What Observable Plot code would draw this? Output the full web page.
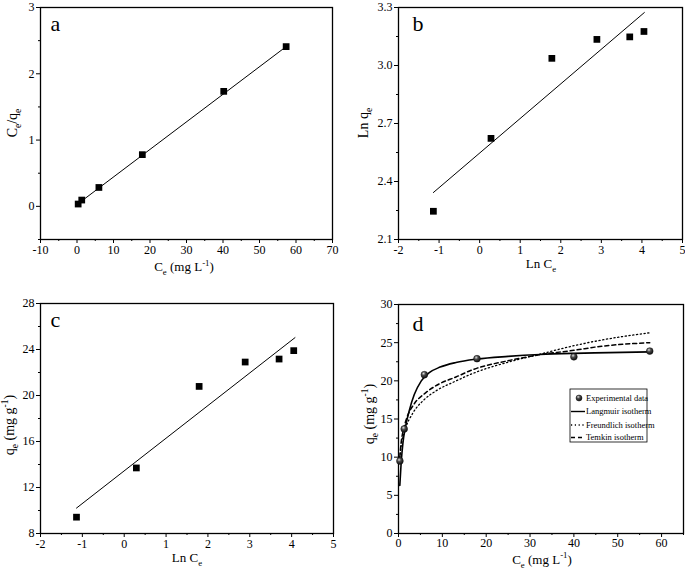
<!DOCTYPE html>
<html>
<head>
<meta charset="utf-8">
<script src="https://cdn.jsdelivr.net/npm/d3@7"></script>
<script src="https://cdn.jsdelivr.net/npm/@observablehq/plot@0.6"></script>
<style>
  html, body { margin: 0; padding: 0; background: white; }
  #wrap { position: relative; width: 685px; height: 571px; background: white; overflow: hidden; }
  #wrap > svg.panel { position: absolute; overflow: visible; }
</style>
</head>
<body>
<svg width="0" height="0" style="position:absolute">
  <defs>
    <radialGradient id="ball" cx="0.38" cy="0.32" r="0.7">
      <stop offset="0" stop-color="#dcdcdc"/>
      <stop offset="0.4" stop-color="#4a4a4a"/>
      <stop offset="1" stop-color="#0a0a0a"/>
    </radialGradient>
  </defs>
</svg>
<div id="wrap"></div>
<script>
// ---------- Panel a: Langmuir linear plot ----------
const aCe = [0.32, 1.3, 6.0, 17.9, 40.2, 57.3];
const aCeQe = [0.035, 0.095, 0.285, 0.78, 1.735, 2.41];
const aFitCe = [0.3, 57.3];
const aFitCeQe = [0.04, 2.41];
const aXMajor = [-10, 0, 10, 20, 30, 40, 50, 60, 70];
const aXMinor = [-5, 5, 15, 25, 35, 45, 55, 65];
const aYMajor = [0, 1, 2, 3];
const aYMinor = [-0.5, 0.5, 1.5, 2.5];

// ---------- Panel b: Freundlich linear plot ----------
const bLnCe = [-1.14, 0.28, 1.78, 2.89, 3.70, 4.05];
const bLnQe = [2.246, 2.623, 3.037, 3.135, 3.148, 3.176];
const bFitX = [-1.14, 4.06];
const bFitY = [2.343, 3.274];
const bXMajor = [-2, -1, 0, 1, 2, 3, 4, 5];
const bXMinor = [-1.5, -0.5, 0.5, 1.5, 2.5, 3.5, 4.5];
const bYMajor = [2.1, 2.4, 2.7, 3.0, 3.3];
const bYMinor = [2.25, 2.55, 2.85, 3.15];

// ---------- Panel c: Temkin linear plot ----------
const cLnCe = [-1.14, 0.29, 1.79, 2.89, 3.70, 4.05];
const cQe = [9.42, 13.70, 20.79, 22.91, 23.17, 23.90];
const cFitX = [-1.14, 4.08];
const cFitY = [10.21, 25.03];
const cXMajor = [-2, -1, 0, 1, 2, 3, 4, 5];
const cXMinor = [-1.5, -0.5, 0.5, 1.5, 2.5, 3.5, 4.5];
const cYMajor = [8, 12, 16, 20, 24, 28];
const cYMinor = [10, 14, 18, 22, 26];

// ---------- Panel d: nonlinear isotherms ----------
const dCe = [0.32, 1.3, 5.9, 17.9, 40.0, 57.3];
const dQe = [9.5, 13.7, 20.8, 22.9, 23.15, 23.9];
const langCe = [0.3, 0.6, 1.0, 1.6, 2.5, 3.6, 5.2, 7.1, 9.5, 13.1, 17.9, 25, 32.3, 40, 48, 57.3];
const langQe = [6.3, 9.2, 11.8, 14.0, 16.2, 18.2, 20.0, 21.1, 21.8, 22.4, 22.85, 23.2, 23.45, 23.6, 23.7, 23.8];
const freuCe = [0.3, 0.6, 1.4, 3.3, 5.6, 8.6, 12.8, 17.1, 24.7, 32.3, 40, 45.9, 57.3];
const freuQe = [9.9, 11.5, 13.4, 15.8, 17.4, 18.7, 19.9, 21.0, 22.4, 23.5, 24.6, 25.3, 26.3];
const temkCe = [0.3, 0.6, 1.0, 1.75, 3.6, 5.9, 9.3, 13.1, 17.1, 24.7, 32, 40, 45.9, 57.3];
const temkQe = [10.0, 11.9, 13.3, 14.9, 17.0, 18.3, 19.6, 20.5, 21.5, 22.6, 23.4, 24.0, 24.5, 25.0];
const dXMajor = [0, 10, 20, 30, 40, 50, 60];
const dXMinor = [5, 15, 25, 35, 45, 55, 65];
const dYMajor = [0, 5, 10, 15, 20, 25, 30];
const dYMinor = [2.5, 7.5, 12.5, 17.5, 22.5, 27.5];
const legendLabels = ["Experimental data", "Langmuir isotherm", "Freundlich isotherm", "Temkin isotherm"];

const serif = "Liberation Serif";
const zip = (xs, ys) => xs.map((x, i) => ({x, y: ys[i]}));
const plain = d => String(d);

function axes(xMajor, xMinor, yMajor, yMinor, yFmt, xPad = 2) {
  return [
    Plot.axisX({ticks: xMajor, tickSize: 4, tickPadding: xPad, tickFormat: plain, label: null, fontSize: 12}),
    Plot.axisX({ticks: xMinor, tickSize: 2, tickFormat: () => "", label: null}),
    Plot.axisY({ticks: yMajor, tickSize: 4, tickPadding: 2, tickFormat: yFmt, label: null, fontSize: 12}),
    Plot.axisY({ticks: yMinor, tickSize: 2, tickFormat: () => "", label: null}),
    Plot.frame({stroke: "black", strokeWidth: 1.3})
  ];
}

function richText(svg, {x, y, rotate = 0, parts, size = 13}) {
  const t = d3.select(svg).append("text")
    .attr("font-size", size)
    .attr("fill", "black")
    .attr("text-anchor", "middle")
    .attr("transform", `translate(${x},${y}) rotate(${rotate})`);
  let cur = 0;
  for (const [s, kind] of parts) {
    const target = kind === "sub" ? size * 0.32 : kind === "sup" ? -size * 0.4 : 0;
    const sp = t.append("tspan").attr("dy", target - cur).text(s);
    if (kind) sp.attr("font-size", size * 0.68);
    cur = target;
  }
}

function mount(svg, left, top) {
  svg.classList.add("panel");
  svg.style.left = left + "px";
  svg.style.top = top + "px";
  document.getElementById("wrap").appendChild(svg);
  return svg;
}

const letterMark = (s, dx, dy) => Plot.text([s], {frameAnchor: "top-left", textAnchor: "start", lineAnchor: "top", dx, dy, fontSize: 22, fill: "black"});
const baseStyle = {fontSize: "12px", color: "black", background: "white"};

// Panel a
const svgA = Plot.plot({
  width: 340, height: 285,
  marginLeft: 40, marginRight: 8, marginTop: 7, marginBottom: 46,
  style: baseStyle,
  x: {domain: [-10, 70], label: null},
  y: {domain: [-0.5, 3], label: null},
  marks: [
    ...axes(aXMajor, aXMinor, aYMajor, aYMinor, plain),
    Plot.line(zip(aFitCe, aFitCeQe), {x: "x", y: "y", stroke: "black", strokeWidth: 1}),
    Plot.dot(zip(aCe, aCeQe), {x: "x", y: "y", symbol: "square", r: 3.8, fill: "black"}),
    letterMark("a", 10, 8)
  ]
});
mount(svgA, 0, 0);
richText(svgA, {x: 184, y: 271, parts: [["C"], ["e", "sub"], [" (mg L"], ["-1", "sup"], [")"]]});
richText(svgA, {x: 17, y: 123, rotate: -90, size: 14, parts: [["C"], ["e", "sub"], ["/q"], ["e", "sub"]]});

// Panel b
const svgB = Plot.plot({
  width: 345, height: 285,
  marginLeft: 58, marginRight: 3, marginTop: 7, marginBottom: 46,
  style: baseStyle,
  x: {domain: [-2, 5], label: null},
  y: {domain: [2.1, 3.3], label: null},
  marks: [
    ...axes(bXMajor, bXMinor, bYMajor, bYMinor, d => d.toFixed(1)),
    Plot.line(zip(bFitX, bFitY), {x: "x", y: "y", stroke: "black", strokeWidth: 1}),
    Plot.dot(zip(bLnCe, bLnQe), {x: "x", y: "y", symbol: "square", r: 3.8, fill: "black"}),
    letterMark("b", 14, 8)
  ]
});
mount(svgB, 340, 0);
richText(svgB, {x: 201, y: 268, parts: [["Ln C"], ["e", "sub"]]});
richText(svgB, {x: 28, y: 123, rotate: -90, size: 14, parts: [["Ln q"], ["e", "sub"]]});

// Panel c
const svgC = Plot.plot({
  width: 340, height: 286,
  marginLeft: 40, marginRight: 7, marginTop: 18, marginBottom: 38,
  style: baseStyle,
  x: {domain: [-2, 5], label: null},
  y: {domain: [8, 28], label: null},
  marks: [
    ...axes(cXMajor, cXMinor, cYMajor, cYMinor, plain),
    Plot.line(zip(cFitX, cFitY), {x: "x", y: "y", stroke: "black", strokeWidth: 1}),
    Plot.dot(zip(cLnCe, cQe), {x: "x", y: "y", symbol: "square", r: 3.8, fill: "black"}),
    letterMark("c", 10, 8)
  ]
});
mount(svgC, 0, 285);
richText(svgC, {x: 187, y: 277, parts: [["Ln C"], ["e", "sub"]]});
richText(svgC, {x: 14, y: 140, rotate: -90, size: 14, parts: [["q"], ["e", "sub"], [" (mg g"], ["-1", "sup"], [")"]]});

// Panel d
const svgD = Plot.plot({
  width: 345, height: 286,
  marginLeft: 58, marginRight: 2, marginTop: 19, marginBottom: 38,
  style: baseStyle,
  x: {domain: [0, 65], label: null},
  y: {domain: [0, 30], label: null},
  marks: [
    ...axes(dXMajor, dXMinor, dYMajor, dYMinor, plain, 1),
    Plot.line(zip(freuCe, freuQe), {x: "x", y: "y", stroke: "black", strokeWidth: 1.3, strokeDasharray: "1.2,2.6", curve: "monotone-x"}),
    Plot.line(zip(temkCe, temkQe), {x: "x", y: "y", stroke: "black", strokeWidth: 1.5, strokeDasharray: "4,3", curve: "monotone-x"}),
    Plot.line(zip(langCe, langQe), {x: "x", y: "y", stroke: "black", strokeWidth: 1.6, curve: "monotone-x"}),
    Plot.dot(zip(dCe, dQe), {x: "x", y: "y", r: 3.4, fill: "url(#ball)", stroke: "#111", strokeWidth: 0.5}),
    letterMark("d", 14, 11)
  ]
});
mount(svgD, 340, 285);
richText(svgD, {x: 202, y: 278.5, parts: [["C"], ["e", "sub"], [" (mg L"], ["-1", "sup"], [")"]]});
richText(svgD, {x: 34, y: 129, rotate: -90, size: 14, parts: [["q"], ["e", "sub"], [" (mg g"], ["-1", "sup"], [")"]]});

// Legend for panel d
(function () {
  const g = d3.select(svgD).append("g").attr("font-size", 8.5).attr("fill", "black").attr("text-anchor", "start");
  g.append("rect").attr("x", 230).attr("y", 104).attr("width", 77).attr("height", 53)
    .attr("fill", "white").attr("stroke", "black").attr("stroke-width", 0.8);
  const rows = [113, 126.5, 140, 152.5];
  g.append("circle").attr("cx", 239).attr("cy", rows[0]).attr("r", 3).attr("fill", "url(#ball)").attr("stroke", "#111").attr("stroke-width", 0.5);
  const dash = [null, null, "1.2,2.6", "4,3"];
  for (let i = 1; i < 4; i++) {
    const ln = g.append("line").attr("x1", 231).attr("x2", 245).attr("y1", rows[i]).attr("y2", rows[i])
      .attr("stroke", "black").attr("stroke-width", i === 1 ? 1.4 : 1.3);
    if (dash[i]) ln.attr("stroke-dasharray", dash[i]);
  }
  legendLabels.forEach((s, i) => {
    g.append("text").attr("x", 246).attr("y", rows[i]).attr("dy", "0.35em").attr("text-anchor", "start").text(s);
  });
})();

// Apply the serif face directly to every text element.
d3.selectAll("#wrap text").style("font-family", serif);
</script>
</body>
</html>
